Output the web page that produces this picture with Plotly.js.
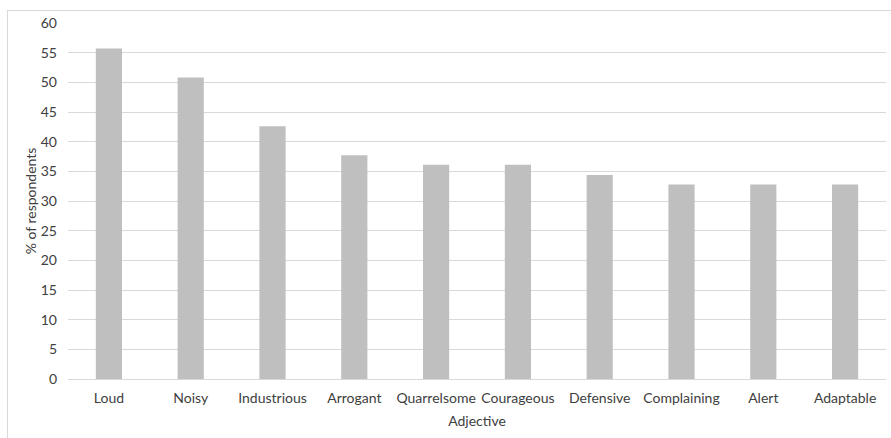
<!DOCTYPE html>
<html>
<head>
<meta charset="utf-8">
<script src="https://cdn.plot.ly/plotly-3.0.1.min.js"></script>
<style>
html,body{margin:0;padding:0;background:#fff;}
#wrap{position:relative;width:891px;height:438px;}
#chart{width:891px;height:438px;}
#frame{position:absolute;left:7px;top:10px;width:900px;height:440px;border-top:1px solid #d9d9d9;border-left:1px solid #d9d9d9;pointer-events:none;}
</style>
</head>
<body>
<div id="wrap"><div id="chart"></div><div id="frame"></div></div>
<script>
const categories = ["Loud","Noisy","Industrious","Arrogant","Quarrelsome","Courageous","Defensive","Complaining","Alert","Adaptable"];
const values = [55.7, 50.8, 42.6, 37.7, 36.1, 36.1, 34.4, 32.8, 32.8, 32.8];
const yTicks = [0,5,10,15,20,25,30,35,40,45,50,55,60];

const fam = "Lato, 'Open Sans', sans-serif";
const tf = {family: fam, size: 14, color: "#404040"};
Plotly.newPlot("chart", [{
  type: "bar",
  x: categories,
  y: values,
  marker: {color: "#bfbfbf"},
  hoverinfo: "x+y"
}], {
  width: 891, height: 438,
  margin: {l: 68, r: 5, t: 23, b: 59},
  paper_bgcolor: "#fff", plot_bgcolor: "#fff",
  bargap: 0.68,
  showlegend: false,
  font: tf,
  xaxis: {
    showgrid: false, zeroline: false, showline: false,
    ticks: "", ticklabelstandoff: 9, tickfont: tf,
    title: {text: "Adjective", font: tf, standoff: 11},
    automargin: false
  },
  yaxis: {
    range: [0, 60], tickvals: yTicks, ticktext: yTicks.map(String),
    showgrid: true, gridcolor: "#d9d9d9", gridwidth: 1,
    zeroline: true, zerolinecolor: "#d9d9d9", zerolinewidth: 1,
    showline: false, ticks: "", ticklen: 0, ticklabelstandoff: 10,
    tickfont: tf,
    title: {text: "% of respondents", font: tf, standoff: 0},
    automargin: false
  }
}, {displayModeBar: false, staticPlot: true});
</script>
</body>
</html>
